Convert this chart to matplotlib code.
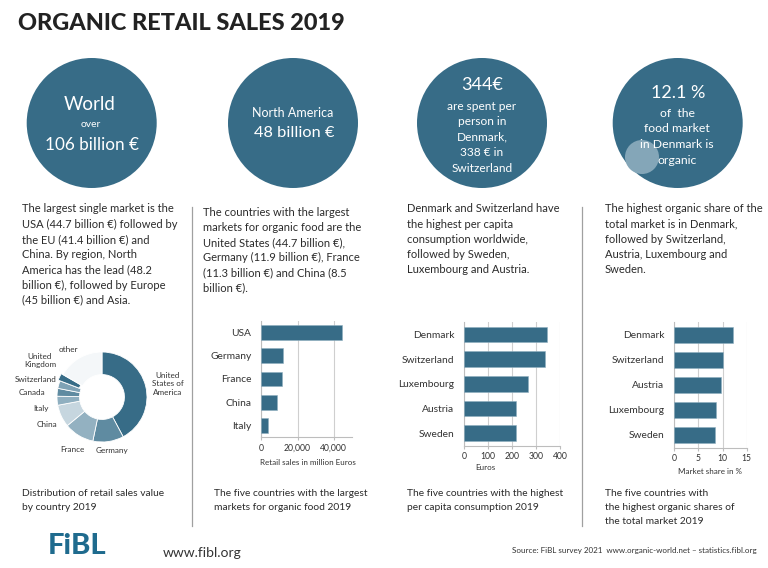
import matplotlib
matplotlib.use("Agg")
import matplotlib.pyplot as plt
from matplotlib.patches import Circle

plt.rcParams['font.family'] = ['Lato', 'DejaVu Sans']

W, H = 768, 568
DARK = '#376c87'
TXT = '#2b2b2b'

donut_labels = ['United\nStates of\nAmerica', 'Germany', 'France', 'China', 'Italy',
                'Canada', 'Switzerland', 'United\nKingdom', 'other']
donut_values = [42.0, 11.0, 10.7, 8.0, 3.2, 2.8, 2.7, 2.5, 16.6]
donut_colors = ['#376c87', '#5f8ba1', '#93b1c1', '#c6d6df', '#8fafc0',
                '#5f8ba1', '#7fa2b5', '#376c87', '#f4f7f9']

usa_cats = ['USA', 'Germany', 'France', 'China', 'Italy']
usa_vals = [44700, 11900, 11300, 8500, 3600]
pc_cats = ['Denmark', 'Switzerland', 'Luxembourg', 'Austria', 'Sweden']
pc_vals = [344, 338, 265, 216, 216]
sh_cats = ['Denmark', 'Switzerland', 'Austria', 'Luxembourg', 'Sweden']
sh_vals = [12.1, 10.0, 9.6, 8.7, 8.4]

fig = plt.figure(figsize=(W/100, H/100), dpi=100)
bg = fig.add_axes([0, 0, 1, 1])
bg.set_xlim(0, W); bg.set_ylim(H, 0); bg.axis('off'); bg.set_aspect('equal')

def T(x, y, s, size=9, color=TXT, ha='left', va='center', **kw):
    bg.text(x, y, s, fontsize=size, color=color, ha=ha, va=va, **kw)

T(18, 24, 'ORGANIC RETAIL SALES 2019', size=16.9, color='#222222', fontweight='black')

# separators
for x in (191.7, 581.7):
    bg.plot([x, x], [207, 526], color='#a0a0a0', lw=0.9)

# circles
circles = [(91.7, 123, 65), (293, 123, 65), (482, 123, 65), (677.7, 123, 65)]
for cx, cy, r in circles:
    bg.add_patch(Circle((cx, cy), r, fc=DARK, ec='none'))
bg.add_patch(Circle((642, 157), 17, fc='#84a6b8', ec='none', zorder=2))

W_ = 'white'
T(90, 104.5, 'World', 13.5, W_, 'center', zorder=3)
T(91, 124.5, 'over', 7.5, W_, 'center', zorder=3)
T(91.7, 145, '106 billion €', 12.3, W_, 'center', zorder=3)
T(293, 113, 'North America', 9, W_, 'center', zorder=3)
T(294, 133, '48 billion €', 11.8, W_, 'center', zorder=3)
T(481.7, 85, '344€', 13, W_, 'center', zorder=3)
for y, s in zip((106, 121.7, 137, 152.7, 168), ('are spent per', 'person in', 'Denmark,', '338 € in', 'Switzerland')):
    T(482, y, s, 8.6, W_, 'center', zorder=3)
T(678, 93, '12.1 %', 13, W_, 'center', zorder=3)
for y, s in zip((113.7, 129, 145, 161), ('of  the', 'food market', 'in Denmark is', 'organic')):
    T(677, y, s, 8.8, W_, 'center', zorder=3)

# paragraphs
col1 = ['The largest single market is the', 'USA (44.7 billion €) followed by', 'the EU (41.4 billion €) and',
        'China. By region, North', 'America has the lead (48.2', 'billion €), followed by Europe', '(45 billion €) and Asia.']
col2 = ['The countries with the largest', 'markets for organic food are the', 'United States (44.7 billion €),',
        'Germany (11.9 billion €), France', '(11.3 billion €) and China (8.5', 'billion €).']
col3 = ['Denmark and Switzerland have', 'the highest per capita', 'consumption worldwide,',
        'followed by Sweden,', 'Luxembourg and Austria.']
col4 = ['The highest organic share of the', 'total market is in Denmark,', 'followed by Switzerland,',
        'Austria, Luxembourg and', 'Sweden.']
for x, y0, lines in ((22, 209, col1), (203, 212, col2), (407, 209, col3), (605, 209, col4)):
    for i, s in enumerate(lines):
        T(x, y0 + i*15.2, s, 8.0)

# captions
for x, y0, lines in ((22, 494, ['Distribution of retail sales value', 'by country 2019']),
                     (214, 494, ['The five countries with the largest', 'markets for organic food 2019']),
                     (407, 494, ['The five countries with the highest', 'per capita consumption 2019']),
                     (605, 494, ['The five countries with', 'the highest organic shares of', 'the total market 2019'])):
    for i, s in enumerate(lines):
        T(x, y0 + i*14, s, 7.4)

# footer
T(48, 546, 'FiBL', 21, '#1f6b8e', fontweight='black')
T(163, 553, 'www.fibl.org', 10, '#333333')
T(757, 551, 'Source: FiBL survey 2021  www.organic-world.net – statistics.fibl.org', 5.8, '#333333', 'right')

# donut
def axpx(x0, y0, x1, y1):
    return fig.add_axes([x0/W, 1-y1/H, (x1-x0)/W, (y1-y0)/H])
dax = axpx(102-48, 397-48, 102+48, 397+48)
dax.pie(donut_values, colors=donut_colors, startangle=90, counterclock=False, radius=45/48,
        explode=[0, 0, 0, 0, 0, 0, 0, 0.04, 0],
        wedgeprops=dict(width=0.47, edgecolor='white', linewidth=0.6))
dax.set_xlim(-1, 1); dax.set_ylim(-1, 1)
label_pos = [(167.7, 384), (111.7, 450), (72, 449), (47, 424.3),
             (40.7, 408), (31.7, 392.7), (35.7, 379.3), (40, 360.7), (68.3, 349.3)]
for (x, y), s in zip(label_pos, donut_labels):
    T(x, y, s, 5.9, '#333333', 'center', linespacing=1.2)

def bars(box, cats, vals, xmax, ticks, ticklabels, xlabel, xlabel_x, xlabel_dy):
    ax = axpx(*box)
    ypos = list(range(len(cats)))
    ax.barh(ypos, vals, height=0.63, color=DARK, edgecolor='#8fafc0', linewidth=0.4, zorder=3)
    ax.set_yticks(ypos, cats)
    ax.set_ylim(len(cats)-0.5, -0.5)
    ax.set_xlim(0, xmax)
    ax.set_xticks(ticks, ticklabels)
    ax.grid(axis='x', color='#cfcfcf', lw=0.8, zorder=0)
    for s in ('top', 'right'):
        ax.spines[s].set_visible(False)
    for s in ('left', 'bottom'):
        ax.spines[s].set_color('#bdbdbd'); ax.spines[s].set_linewidth(0.8)
    ax.tick_params(axis='y', length=0, labelsize=7.4, labelcolor='#333333', pad=7)
    ax.tick_params(axis='x', length=2, color='#bdbdbd', labelsize=6.2, labelcolor='#333333', pad=2.5)
    ax.patch.set_alpha(0)
    T(xlabel_x, box[3]+xlabel_dy, xlabel, 5.8, '#333333', 'center')

bars((261.3, 320.6, 351.8, 437.3), usa_cats, usa_vals, 50000, [0, 20000, 40000], ['0', '20,000', '40,000'], 'Retail sales in million Euros', 308, 25.5)
bars((464.3, 322, 560.3, 445.5), pc_cats, pc_vals, 400, [0, 100, 200, 300, 400], ['0', '100', '200', '300', '400'], 'Euros', 485.7, 22.5)
bars((674.3, 322.2, 746.7, 447.5), sh_cats, sh_vals, 15, [0, 5, 10, 15], ['0', '5', '10', '15'], 'Market share in %', 710, 23.5)

fig.savefig('out.png', dpi=100)
